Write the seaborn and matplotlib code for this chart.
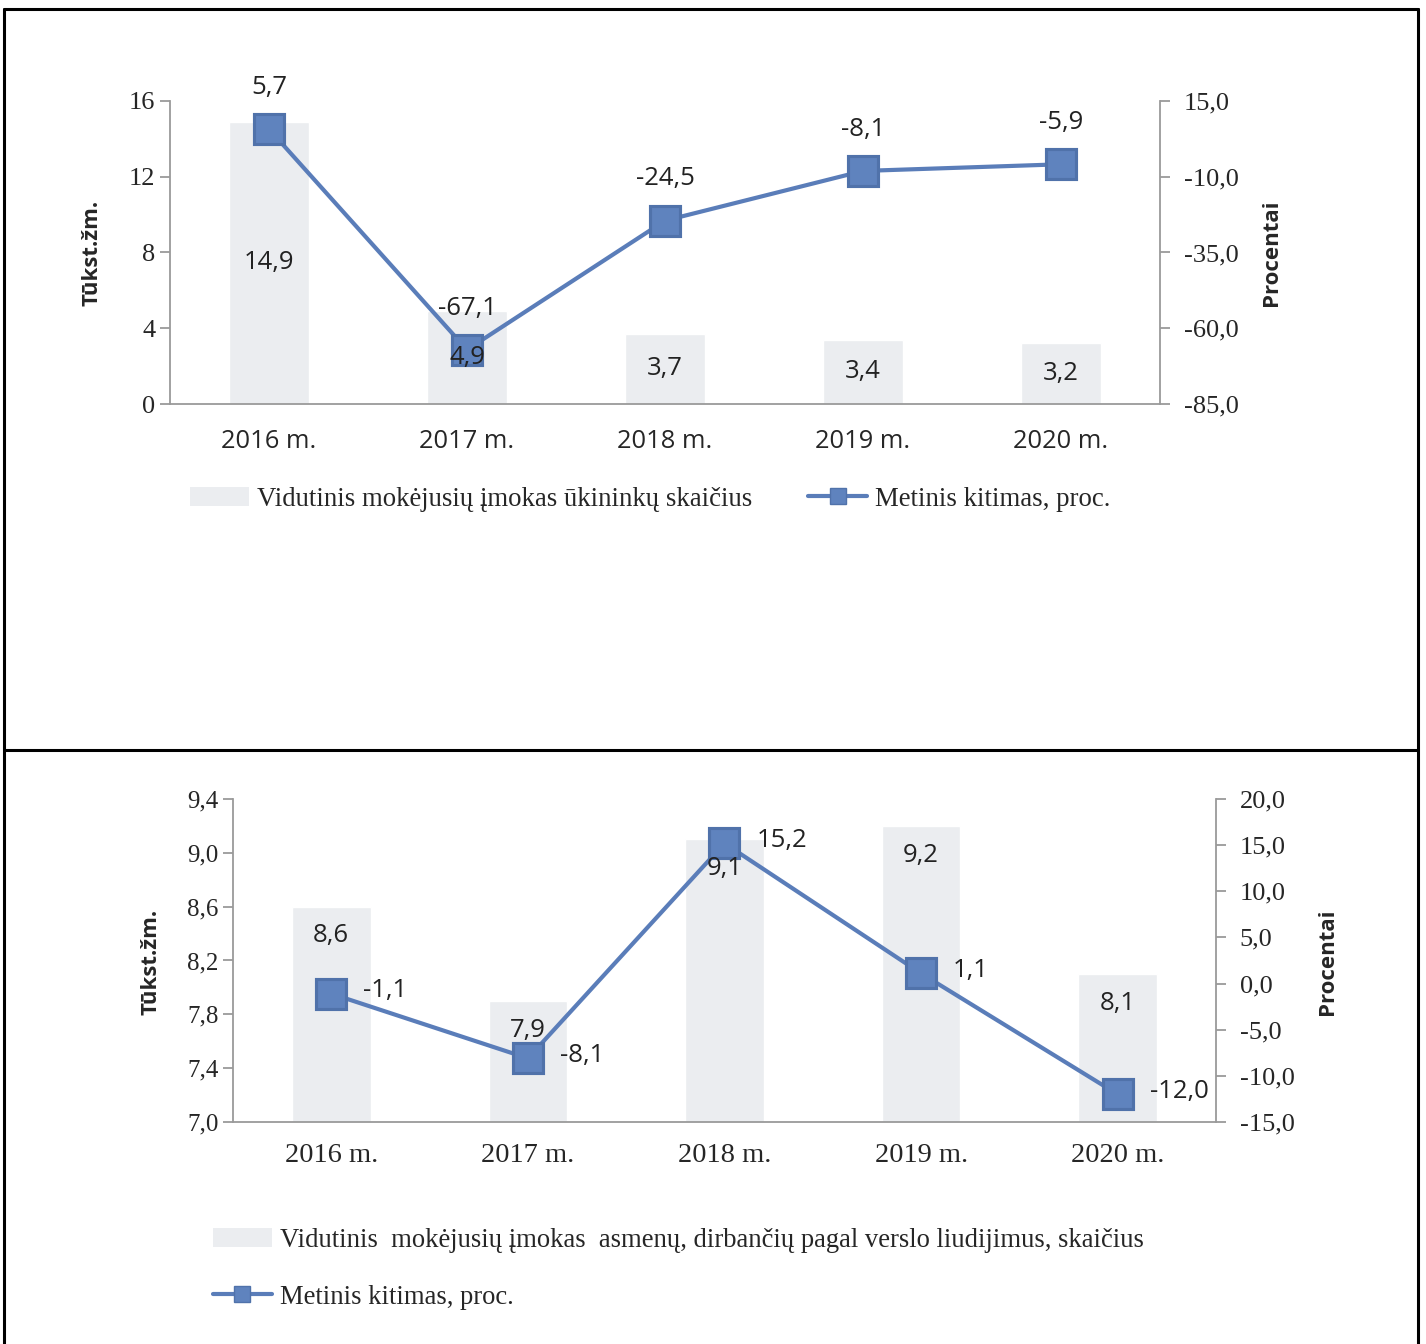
import matplotlib
matplotlib.use("Agg")
import matplotlib.pyplot as plt
import seaborn as sns
import numpy as np
from matplotlib.lines import Line2D
from matplotlib.patches import Patch
from matplotlib.ticker import FixedLocator, FuncFormatter

# data
years = ['2016 m.', '2017 m.', '2018 m.', '2019 m.', '2020 m.']
farmers = [14.9, 4.9, 3.7, 3.4, 3.2]
farmers_change = [5.7, -67.1, -24.5, -8.1, -5.9]
licence_persons = [8.6, 7.9, 9.1, 9.2, 8.1]
licence_change = [-1.1, -8.1, 15.2, 1.1, -12.0]

BAR = '#EBEDF0'
LINE = '#5A7DB9'
FACE = '#5F83BE'
EDGE = '#5072AA'
GRAY = '#9A9A9A'
SERIF = 'Liberation Serif'
SANS = 'Open Sans'


def comma(fmt):
    return FuncFormatter(lambda v, _: format(v, fmt).replace('.', ','))


def lt(v):
    return format(v, '.1f').replace('.', ',')


sns.set_style('white')
plt.rcParams['font.family'] = ['Liberation Serif', 'DejaVu Serif']

fig = plt.figure(figsize=(14.26, 13.44), dpi=100)


def style_axes(ax, ax2, pad):
    for a in (ax, ax2):
        for s in a.spines.values():
            s.set_visible(False)
    ax.spines['left'].set_visible(True)
    ax.spines['bottom'].set_visible(True)
    ax2.spines['right'].set_visible(True)
    for s in (ax.spines['left'], ax.spines['bottom'], ax2.spines['right']):
        s.set_color(GRAY)
        s.set_linewidth(1.3)
    ax.set_xlim(-0.5, 4.5)
    ax.xaxis.set_major_locator(FixedLocator(range(len(years))))
    ax.xaxis.set_minor_locator(FixedLocator([i - 0.5 for i in range(len(years) + 1)]))
    ax.set_xticklabels(years)
    ax.tick_params(axis='x', which='major', length=0, pad=pad)
    ax.tick_params(axis='x', which='minor', length=7, color=GRAY, width=1.3, direction='out')
    ax.tick_params(axis='y', length=7, color=GRAY, width=1.3, direction='out', left=True)
    ax2.tick_params(axis='y', length=7, color=GRAY, width=1.3, direction='out', right=True, pad=10)
    ax.set_xlabel('')
    ax.set_ylabel('')
    ax2.set_ylabel('')
    for t in ax2.get_yticklabels():
        t.set_fontfamily(SERIF)
        t.set_fontsize(19)


# ---------- top chart ----------
ax1 = fig.add_axes([0.1192, 0.6994, 0.6943, 0.2255])
ax1b = ax1.twinx()
sns.barplot(x=years, y=farmers, ax=ax1, color=BAR, saturation=1, width=0.4)
sns.pointplot(x=years, y=farmers_change, ax=ax1b, color=LINE, markers='s',
              markersize=21, linewidth=3, markerfacecolor=FACE, markeredgecolor=EDGE)
ax1.set_ylim(0, 16)
ax1.set_yticks(np.linspace(0, 16, 5))
ax1.yaxis.set_major_formatter(comma('.0f'))
ax1b.set_ylim(-85, 15)
ax1b.set_yticks(np.linspace(-85, 15, 5))
ax1b.yaxis.set_major_formatter(comma('.1f'))
style_axes(ax1, ax1b, 18)
for t in ax1.get_xticklabels():
    t.set_fontfamily(SANS)
    t.set_fontsize(18.4)
for t in ax1.get_yticklabels():
    t.set_fontsize(19)

# bar labels drawn on the twin axes so they sit above the line
for i, v in enumerate(farmers):
    ax1b.annotate(lt(v), (i, v / 2), xycoords=ax1.transData, ha='center', va='center',
                  fontfamily=SANS, fontsize=18.5, color='#222222', zorder=5)
for i, v in enumerate(farmers_change):
    ax1b.annotate(lt(v), (i, v), xytext=(0, 30),
                  textcoords='offset points', ha='center', va='center',
                  fontfamily=SANS, fontsize=18.5, color='#222222')

ax1.set_ylabel('Tūkst.žm.', fontfamily=SANS, fontweight='bold', fontsize=16)
ax1.yaxis.set_label_coords(-0.068, 0.5)
ax1b.set_ylabel('Procentai', fontfamily=SANS, fontweight='bold', fontsize=16)
ax1b.yaxis.set_label_coords(1.102, 0.5)

h_bar = Patch(facecolor=BAR, edgecolor='none')
h_line = Line2D([], [], color=LINE, linewidth=3, marker='s', markersize=12,
                markerfacecolor=FACE, markeredgecolor=EDGE)
ax1.legend([h_bar, h_line],
           ['Vidutinis mokėjusių įmokas ūkininkų skaičius', 'Metinis kitimas, proc.'],
           loc='center left', bbox_to_anchor=(0.02, -0.3135), ncol=2, frameon=False,
           borderpad=0, borderaxespad=0, handlelength=2.2, handletextpad=0.3,
           columnspacing=2.1, prop={'family': SERIF, 'size': 19.3})

# ---------- bottom chart ----------
ax2 = fig.add_axes([0.1634, 0.1652, 0.6893, 0.2403])
ax2b = ax2.twinx()
sns.barplot(x=years, y=licence_persons, ax=ax2, color=BAR, saturation=1, width=0.4)
sns.pointplot(x=years, y=licence_change, ax=ax2b, color=LINE, markers='s',
              markersize=21, linewidth=3, markerfacecolor=FACE, markeredgecolor=EDGE)
ax2.set_ylim(7.0, 9.4)
ax2.set_yticks(np.linspace(7.0, 9.4, 7))
ax2.yaxis.set_major_formatter(comma('.1f'))
ax2b.set_ylim(-15, 20)
ax2b.set_yticks(np.linspace(-15, 20, 8))
ax2b.yaxis.set_major_formatter(comma('.1f'))
style_axes(ax2, ax2b, 15)
for t in ax2.get_xticklabels():
    t.set_fontfamily(SERIF)
    t.set_fontsize(20.5)
for t in ax2.get_yticklabels():
    t.set_fontsize(18)

for i, v in enumerate(licence_persons):
    ax2b.annotate(lt(v), (i, v), xycoords=ax2.transData, xytext=(0, -21),
                  textcoords='offset points', ha='center', va='center',
                  fontfamily=SANS, fontsize=18.5, color='#222222', zorder=5)
for i, v in enumerate(licence_change):
    ax2b.annotate(lt(v), (i, v), xytext=(23, 2),
                  textcoords='offset points', ha='left', va='center',
                  fontfamily=SANS, fontsize=18.5, color='#222222')

ax2.set_ylabel('Tūkst.žm.', fontfamily=SANS, fontweight='bold', fontsize=16)
ax2.yaxis.set_label_coords(-0.073, 0.495)
ax2b.set_ylabel('Procentai', fontfamily=SANS, fontweight='bold', fontsize=16)
ax2b.yaxis.set_label_coords(1.103, 0.495)

ax2.legend([h_bar, h_line],
           ['Vidutinis  mokėjusių įmokas  asmenų, dirbančių pagal verslo liudijimus, skaičius',
            'Metinis kitimas, proc.'],
           loc='center left', bbox_to_anchor=(-0.0203, -0.4545), ncol=1, frameon=False,
           borderpad=0, borderaxespad=0, handlelength=2.2, handletextpad=0.3,
           labelspacing=1.2, prop={'family': SERIF, 'size': 19.2})

# outer frame and divider
W, H = 1426, 1344
frame = dict(color='black', linewidth=2.2, transform=fig.transFigure)
fig.add_artist(Line2D([4 / W, 4 / W], [0, 1 - 9 / H], **frame))
fig.add_artist(Line2D([1418 / W, 1418 / W], [0, 1 - 9 / H], **frame))
fig.add_artist(Line2D([4 / W, 1418 / W], [1 - 9 / H, 1 - 9 / H], **frame))
fig.add_artist(Line2D([4 / W, 1418 / W], [1 - 750 / H, 1 - 750 / H], **frame))

fig.savefig('out.png', dpi=100, facecolor='white')
